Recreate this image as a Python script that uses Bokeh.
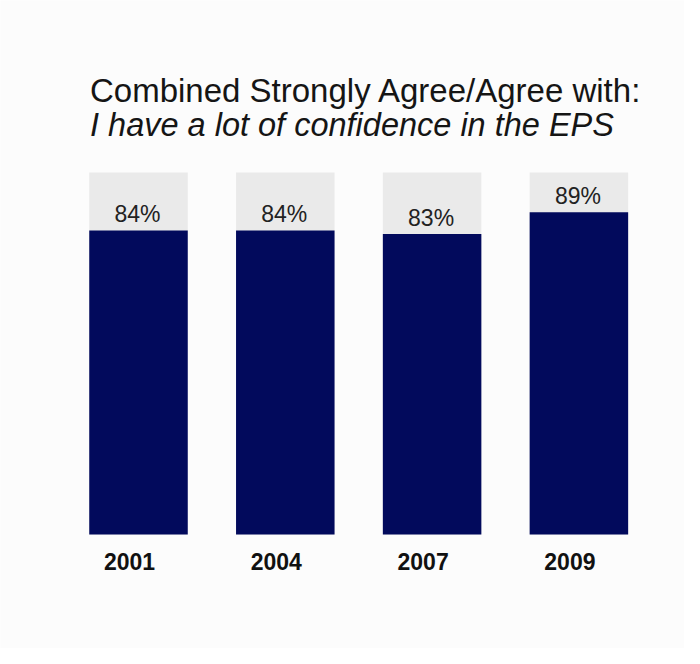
from bokeh.plotting import figure
from bokeh.models import ColumnDataSource, Range1d
from bokeh.core.properties import value
from bokeh.embed import file_html
from bokeh.resources import INLINE

# ---- data ----
years = ["2001", "2004", "2007", "2009"]
agree = [84, 84, 83, 89]          # % Strongly Agree / Agree
full = [100, 100, 100, 100]       # full-scale background bar
title_line1 = "Combined Strongly Agree/Agree with:"
title_line2 = "I have a lot of confidence in the EPS"

NAVY = "#020A5C"
LIGHT = "#EAEAEA"
BG = "#FCFCFC"
FONT = "Liberation Sans"

W, H = 684, 648
# pixel geometry of the chart area (figure coordinates)
x0_px, step_px = 138.0, 146.8      # centre of first bar, bar spacing
base_px, top_px = 534.0, 172.0     # y pixel of 0% and 100%
ppu = (base_px - top_px) / 100.0   # pixels per percent

p = figure(width=W, height=H, output_backend="svg", toolbar_location=None,
           min_border=0, min_border_left=0, min_border_right=0,
           min_border_top=0, min_border_bottom=0,
           x_range=Range1d(-x0_px / step_px, (W - x0_px) / step_px),
           y_range=Range1d(-(H - base_px) / ppu, 100 + top_px / ppu))
p.axis.visible = False
p.grid.visible = False
p.outline_line_color = None
p.background_fill_color = BG
p.border_fill_color = BG

xs = list(range(len(years)))
src = ColumnDataSource(dict(
    x=xs, year=years, agree=agree, full=full,
    label=[f"{v}%" for v in agree],
))

bw = 98.5 / step_px
p.vbar(x="x", top="full", bottom=0, width=bw, source=src,
       fill_color=LIGHT, line_color=None)
p.vbar(x="x", top="agree", bottom=0, width=bw, source=src,
       fill_color=NAVY, line_color=None)

# value labels just above the navy bars
p.text(x="x", y="agree", text="label", source=src,
       text_align="center", text_baseline="alphabetic",
       x_offset=-1, y_offset=-16,
       text_font=value(FONT), text_font_size="23px", text_color="#222222")

# year labels below the bars
p.text(x="x", y=0, text="year", source=src,
       text_align="center", text_baseline="alphabetic",
       x_offset=-9, y_offset=27,
       text_font=value(FONT), text_font_size="23px", text_font_style="bold",
       text_color="#111111")

# two-line title
tx = (89.5 - x0_px) / step_px
p.text(x=[tx], y=[(base_px - 90.0) / ppu], text=[title_line1],
       text_align="left", text_baseline="alphabetic",
       text_font=value(FONT), text_font_size="33px", text_color="#151515")
p.text(x=[tx], y=[(base_px - 124.0) / ppu], text=[title_line2],
       text_align="left", text_baseline="alphabetic",
       text_font=value(FONT), text_font_size="32.5px", text_font_style="italic",
       text_color="#151515")

open("out.html", "w").write(file_html(p, INLINE))
